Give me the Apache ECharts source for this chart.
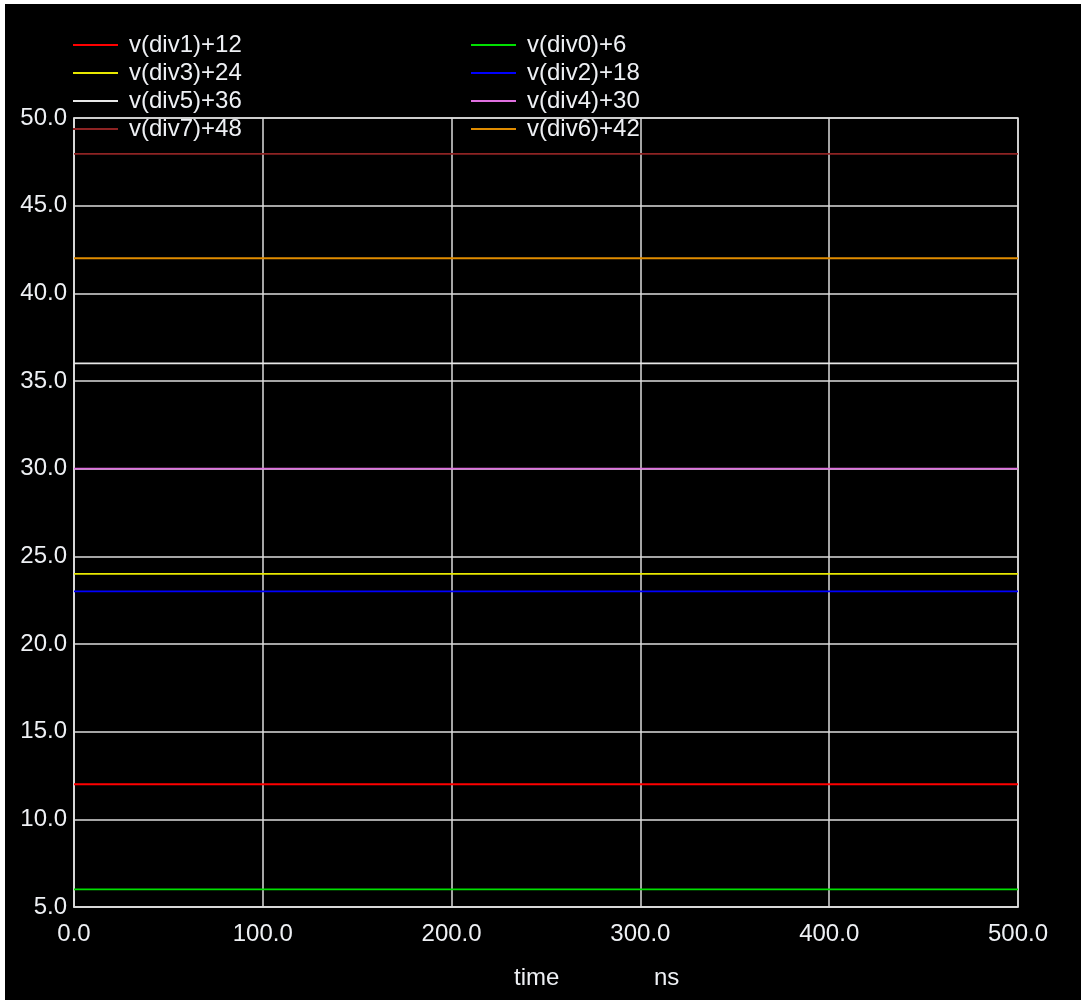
<!DOCTYPE html>
<html>
<head>
<meta charset="utf-8">
<script src="https://cdn.jsdelivr.net/npm/echarts@6/dist/echarts.min.js"></script>
<style>
html,body{margin:0;padding:0;background:#ffffff;}
#chart{position:absolute;left:5px;top:4px;width:1076px;height:996px;background:#000000;}
</style>
</head>
<body>
<div id="chart"></div>
<script>
const timeNs = [0, 500];
const xTicks = [0, 100, 200, 300, 400, 500];
const yTicks = [5, 10, 15, 20, 25, 30, 35, 40, 45, 50];
const seriesNames = ['v(div1)+12','v(div3)+24','v(div5)+36','v(div7)+48','v(div0)+6','v(div2)+18','v(div4)+30','v(div6)+42'];
const div1 = [12.0, 12.0];
const div3 = [24.0, 24.0];
const div5 = [36.0, 36.0];
const div7 = [47.95, 47.95];
const div0 = [6.0, 6.0];
const div2 = [23.0, 23.0];
const div4 = [30.0, 30.0];
const div6 = [42.0, 42.0];
const seriesValues = [div1, div3, div5, div7, div0, div2, div4, div6];
const colors = ['#ff0000','#e8e800','#e8e8e8','#8e2323','#00e000','#0000ff','#e070e0','#e08c00'];

const font = '"Liberation Sans", Arial, sans-serif';
const textColor = '#eef0f4';
const gridColor = '#dcdcdc';

const chart = echarts.init(document.getElementById('chart'), null, {renderer:'canvas'});
const legendText = {color:textColor, fontFamily:font, fontSize:24, lineHeight:24, padding:[0,0,0,6]};
chart.setOption({
  backgroundColor:'#000000',
  animation:false,
  grid:{left:69, top:114, width:944, height:789, show:true, borderColor:gridColor, borderWidth:1.5},
  legend:[
    {data:seriesNames.slice(0,4), orient:'vertical', left:63, top:24, icon:'rect', itemWidth:45, itemHeight:2, itemGap:4, textStyle:legendText, inactiveColor:'#555'},
    {data:seriesNames.slice(4,8), orient:'vertical', left:461, top:24, icon:'rect', itemWidth:45, itemHeight:2, itemGap:4, textStyle:legendText, inactiveColor:'#555'}
  ],
  xAxis:{type:'value', min:xTicks[0], max:xTicks[xTicks.length-1], interval:xTicks[1]-xTicks[0],
    axisLine:{show:true, lineStyle:{color:gridColor, width:1.5}}, axisTick:{show:false},
    splitLine:{show:true, lineStyle:{color:gridColor, width:1.5}},
    axisLabel:{color:textColor, fontFamily:font, fontSize:24, margin:15, formatter:v=>v.toFixed(1)}},
  yAxis:{type:'value', min:yTicks[0], max:yTicks[yTicks.length-1], interval:yTicks[1]-yTicks[0],
    axisLine:{show:true, lineStyle:{color:gridColor, width:1.5}}, axisTick:{show:false},
    splitLine:{show:true, lineStyle:{color:gridColor, width:1.5}},
    axisLabel:{color:textColor, fontFamily:font, fontSize:24, margin:7, formatter:v=>v.toFixed(1)}},
  graphic:[
    {type:'text', left:514-5, top:962, style:{text:'time', fill:textColor, font:'24px "Liberation Sans", Arial, sans-serif'}},
    {type:'text', left:654-5, top:962, style:{text:'ns', fill:textColor, font:'24px "Liberation Sans", Arial, sans-serif'}}
  ],
  series: seriesNames.map((n,i)=>({
    name:n, type:'line', symbol:'none', color:colors[i],
    lineStyle:{color:colors[i], width:1.8},
    data: timeNs.map((t,k)=>[t, seriesValues[i][k]])
  }))
});
</script>
</body>
</html>
